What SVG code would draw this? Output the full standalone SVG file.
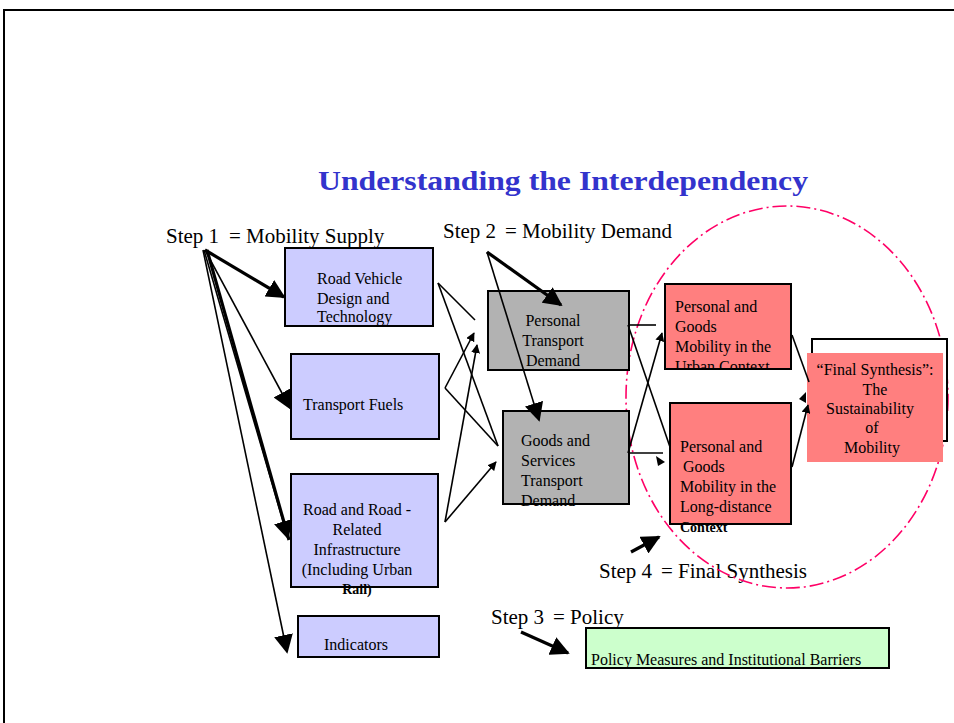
<svg xmlns="http://www.w3.org/2000/svg" width="954" height="723" viewBox="0 0 954 723" font-family="'Liberation Serif', serif">
<defs>
<style>
text{font-family:'Liberation Serif', serif;fill:#000}
.t{font-size:16px}
.s{font-size:21px}
.box{stroke:#000;stroke-width:2}
.blue{fill:#CCCCFF}
.gray{fill:#B2B2B2}
.red{fill:#FF7F7F}
.green{fill:#CCFFCC}
.c{stroke:#000;fill:none;stroke-width:1.6}
.k{stroke:#000;fill:none;stroke-width:3.2}
</style>
<marker id="b" viewBox="0 0 10 10" refX="9" refY="5" markerWidth="9" markerHeight="9" orient="auto" markerUnits="userSpaceOnUse"><path d="M0,0L10,5L0,10z" fill="#000"/></marker>
<marker id="big" viewBox="0 0 10 10" refX="9" refY="5" markerWidth="19" markerHeight="19" orient="auto" markerUnits="userSpaceOnUse"><path d="M0,0L10,5L0,10z" fill="#000"/></marker>
<clipPath id="cu"><rect x="665" y="284" width="126" height="85"/></clipPath>
</defs>
<rect width="954" height="723" fill="#fff"/>
<path d="M4,723V10H954" fill="none" stroke="#000" stroke-width="2"/>
<text x="563" y="190" text-anchor="middle" font-size="28" font-weight="bold" style="fill:#3333CC" textLength="490" lengthAdjust="spacingAndGlyphs">Understanding the Interdependency</text>

<g id="labels">
<text class="s" x="166" y="243">Step 1</text><text class="s" x="229" y="243">= Mobility Supply</text>
<text class="s" x="443" y="238">Step 2</text><text class="s" x="505" y="238">= Mobility Demand</text>
<text class="s" x="491" y="624">Step 3</text><text class="s" x="553" y="624">= Policy</text>
<text class="s" x="599" y="578">Step 4</text><text class="s" x="661" y="578">= Final Synthesis</text>
</g>

<g id="ellipse"><ellipse cx="787" cy="397" rx="161" ry="191" fill="none" stroke="#FF0066" stroke-width="1.6" stroke-dasharray="14,4,2,4"/></g>

<g id="n-rv"><rect class="box blue" x="285" y="248" width="148" height="78"/>
<text class="t" x="317" y="284">Road Vehicle</text><text class="t" x="317" y="304">Design and</text><text class="t" x="317" y="322">Technology</text></g>
<g id="n-tf"><rect class="box blue" x="291" y="354" width="148" height="85"/>
<text class="t" x="303" y="410">Transport Fuels</text></g>
<g id="n-ri"><rect class="box blue" x="291" y="474" width="147" height="113"/>
<text class="t" x="357" y="515" text-anchor="middle">Road and Road -</text><text class="t" x="357" y="535" text-anchor="middle">Related</text><text class="t" x="357" y="555" text-anchor="middle">Infrastructure</text><text class="t" x="357" y="575" text-anchor="middle">(Including Urban</text><text x="357" y="594" text-anchor="middle" font-size="14" font-weight="bold">Rail)</text></g>
<g id="n-ind"><rect class="box blue" x="298" y="616" width="141" height="41"/>
<text class="t" x="356" y="650" text-anchor="middle">Indicators</text></g>

<g id="n-ptd"><rect class="box gray" x="488" y="291" width="141" height="79"/>
<text class="t" x="553" y="326" text-anchor="middle">Personal</text><text class="t" x="553" y="346" text-anchor="middle">Transport</text><text class="t" x="553" y="366" text-anchor="middle">Demand</text></g>
<g id="n-gstd"><rect class="box gray" x="503" y="411" width="126" height="93"/>
<text class="t" x="521" y="446">Goods and</text><text class="t" x="521" y="466">Services</text><text class="t" x="521" y="486">Transport</text><text class="t" x="521" y="506">Demand</text></g>

<g id="n-urban"><rect class="box red" x="665" y="284" width="126" height="85"/>
<g clip-path="url(#cu)"><text class="t" x="675" y="312">Personal and</text><text class="t" x="675" y="332">Goods</text><text class="t" x="675" y="352">Mobility in the</text><text class="t" x="675" y="372">Urban Context</text></g></g>
<g id="n-long"><rect class="box red" x="670" y="403" width="121" height="121"/>
<text class="t" x="680" y="452">Personal and</text><text class="t" x="683" y="472">Goods</text><text class="t" x="680" y="492">Mobility in the</text><text class="t" x="680" y="512">Long-distance</text><text x="680" y="532" font-size="14" font-weight="bold">Context</text></g>

<g id="n-final"><rect x="812" y="339" width="135" height="102" fill="#fff" stroke="#000" stroke-width="2"/>
<rect class="red" x="807" y="353" width="136" height="109"/>
<text class="t" x="875" y="375" text-anchor="middle">“Final Synthesis”:</text><text class="t" x="875" y="395" text-anchor="middle">The</text><text class="t" x="870" y="414" text-anchor="middle">Sustainability</text><text class="t" x="872" y="433" text-anchor="middle">of</text><text class="t" x="872" y="453" text-anchor="middle">Mobility</text></g>

<g id="n-policy"><rect class="box green" x="586" y="628" width="303" height="40"/>
<text class="t" x="591" y="665">Policy Measures and Institutional Barriers</text></g>

<g id="connectors">
<line class="k" x1="205" y1="250" x2="284" y2="297" marker-end="url(#big)"/>
<line class="c" x1="205" y1="250" x2="290" y2="408" stroke-width="2.2" marker-end="url(#big)"/>
<line class="k" x1="207" y1="250" x2="289" y2="540" stroke-width="4"/>
<line class="c" x1="204" y1="250" x2="288" y2="538" stroke-width="2" marker-end="url(#big)"/>
<line class="c" x1="203" y1="250" x2="287" y2="652" stroke-width="1.8" marker-end="url(#big)"/>
<line class="k" x1="487" y1="252" x2="561" y2="305" marker-end="url(#big)"/>
<line class="c" x1="487" y1="252" x2="539" y2="420" stroke-width="2.2" marker-end="url(#big)"/>
<line class="k" x1="521" y1="632" x2="568" y2="653" stroke-width="3.5" marker-end="url(#big)"/>
<line class="k" x1="631" y1="552" x2="659" y2="537" stroke-width="3.5" marker-end="url(#big)"/>

<line class="c" x1="438" y1="283" x2="475" y2="320"/>
<line class="c" x1="438" y1="283" x2="498" y2="446"/>
<line class="c" x1="445" y1="388" x2="498" y2="446"/>
<line class="c" x1="445" y1="388" x2="474" y2="333" marker-end="url(#b)"/>
<line class="c" x1="445" y1="522" x2="477" y2="345" marker-end="url(#b)"/>
<line class="c" x1="445" y1="522" x2="496" y2="462" marker-end="url(#b)"/>

<line class="c" x1="628" y1="325" x2="656" y2="325"/>
<line class="c" x1="628" y1="325" x2="670" y2="447"/>
<line class="c" x1="628" y1="453" x2="663" y2="453"/>
<line class="c" x1="628" y1="453" x2="662" y2="333" marker-end="url(#b)"/>
<path d="M656,456L665,462L658,466z" fill="#000"/>

<line class="c" x1="792" y1="335" x2="809" y2="382"/>
<line class="c" x1="792" y1="467" x2="808" y2="405" marker-end="url(#b)"/>
<path d="M806,392L806,403L799,399z" fill="#000"/>
</g>
</svg>
